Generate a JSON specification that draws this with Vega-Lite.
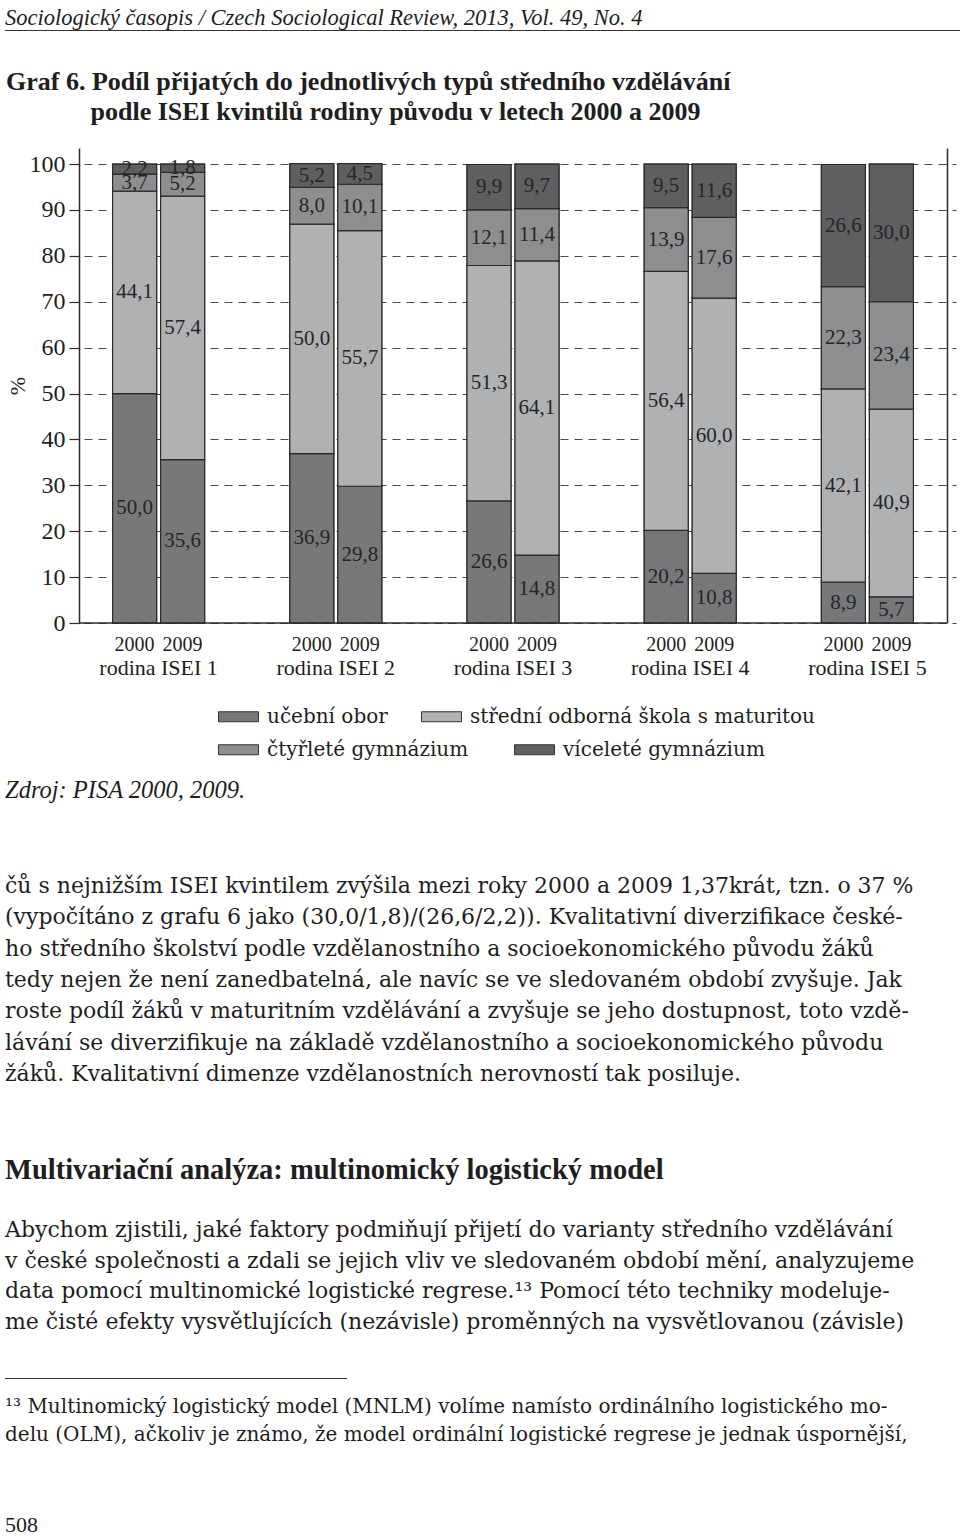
{
  "$schema": "https://vega.github.io/schema/vega-lite/v6.json",
  "padding": {"left": 5, "top": 7, "right": 0, "bottom": 0},
  "background": "white",
  "spacing": 0,
  "config": {
    "view": {"stroke": null},
    "font": "Liberation Serif",
    "locale": {"number": {"decimal": ",", "thousands": "\u00a0", "grouping": [3], "currency": ["", "\u00a0Kč"]}},
    "title": {"anchor": "start", "color": "#1e1e1e", "subtitleColor": "#1e1e1e", "font": "Liberation Serif", "subtitleFont": "DejaVu Serif", "fontWeight": "normal", "offset": 0},
    "axis": {"labelFont": "Liberation Serif", "titleFont": "Liberation Serif", "labelColor": "#1e1e1e", "titleColor": "#1e1e1e", "domainColor": "#2b2b2b", "tickColor": "#2b2b2b"},
    "text": {"font": "Liberation Serif"}
  },
  "vconcat": [
    {
      "title": {"text": "Sociologický časopis / Czech Sociological Review, 2013, Vol. 49, No. 4", "fontSize": 22.5, "fontStyle": "italic", "offset": -5},
      "width": 955, "height": 1,
      "view": {"fill": "#333333", "stroke": null},
      "data": {"values": [{}]},
      "mark": {"type": "text", "text": ""}
    },
    {
      "width": 10, "height": 32.5,
      "data": {"values": [{}]},
      "mark": {"type": "text", "text": ""}
    },
    {
      "spacing": 0,
      "hconcat": [
        {
          "width": 1, "height": 10,
          "data": {"values": [{}]},
          "mark": {"type": "text", "text": ""}
        },
        {
          "title": {
            "text": ["Graf 6. Podíl přijatých do jednotlivých typů středního vzdělávání", "\u200b\u00a0\u00a0\u00a0\u00a0\u00a0\u00a0\u00a0\u00a0\u00a0\u00a0\u00a0\u00a0\u00a0podle ISEI kvintilů rodiny původu v letech 2000 a 2009"],
            "fontSize": 26, "fontWeight": "bold", "lineHeight": 30, "frame": "bounds", "offset": 23
          },
          "width": 868, "height": 475,
          "view": {"stroke": null},
          "data": {"values": [
            {"group": "rodina ISEI 1", "year": "2000", "type": "učební obor", "order": 1, "value": 50.0},
            {"group": "rodina ISEI 1", "year": "2000", "type": "střední odborná škola s maturitou", "order": 2, "value": 44.1},
            {"group": "rodina ISEI 1", "year": "2000", "type": "čtyřleté gymnázium", "order": 3, "value": 3.7},
            {"group": "rodina ISEI 1", "year": "2000", "type": "víceleté gymnázium", "order": 4, "value": 2.2},
            {"group": "rodina ISEI 1", "year": "2009", "type": "učební obor", "order": 1, "value": 35.6},
            {"group": "rodina ISEI 1", "year": "2009", "type": "střední odborná škola s maturitou", "order": 2, "value": 57.4},
            {"group": "rodina ISEI 1", "year": "2009", "type": "čtyřleté gymnázium", "order": 3, "value": 5.2},
            {"group": "rodina ISEI 1", "year": "2009", "type": "víceleté gymnázium", "order": 4, "value": 1.8},
            {"group": "rodina ISEI 2", "year": "2000", "type": "učební obor", "order": 1, "value": 36.9},
            {"group": "rodina ISEI 2", "year": "2000", "type": "střední odborná škola s maturitou", "order": 2, "value": 50.0},
            {"group": "rodina ISEI 2", "year": "2000", "type": "čtyřleté gymnázium", "order": 3, "value": 8.0},
            {"group": "rodina ISEI 2", "year": "2000", "type": "víceleté gymnázium", "order": 4, "value": 5.2},
            {"group": "rodina ISEI 2", "year": "2009", "type": "učební obor", "order": 1, "value": 29.8},
            {"group": "rodina ISEI 2", "year": "2009", "type": "střední odborná škola s maturitou", "order": 2, "value": 55.7},
            {"group": "rodina ISEI 2", "year": "2009", "type": "čtyřleté gymnázium", "order": 3, "value": 10.1},
            {"group": "rodina ISEI 2", "year": "2009", "type": "víceleté gymnázium", "order": 4, "value": 4.5},
            {"group": "rodina ISEI 3", "year": "2000", "type": "učební obor", "order": 1, "value": 26.6},
            {"group": "rodina ISEI 3", "year": "2000", "type": "střední odborná škola s maturitou", "order": 2, "value": 51.3},
            {"group": "rodina ISEI 3", "year": "2000", "type": "čtyřleté gymnázium", "order": 3, "value": 12.1},
            {"group": "rodina ISEI 3", "year": "2000", "type": "víceleté gymnázium", "order": 4, "value": 9.9},
            {"group": "rodina ISEI 3", "year": "2009", "type": "učební obor", "order": 1, "value": 14.8},
            {"group": "rodina ISEI 3", "year": "2009", "type": "střední odborná škola s maturitou", "order": 2, "value": 64.1},
            {"group": "rodina ISEI 3", "year": "2009", "type": "čtyřleté gymnázium", "order": 3, "value": 11.4},
            {"group": "rodina ISEI 3", "year": "2009", "type": "víceleté gymnázium", "order": 4, "value": 9.7},
            {"group": "rodina ISEI 4", "year": "2000", "type": "učební obor", "order": 1, "value": 20.2},
            {"group": "rodina ISEI 4", "year": "2000", "type": "střední odborná škola s maturitou", "order": 2, "value": 56.4},
            {"group": "rodina ISEI 4", "year": "2000", "type": "čtyřleté gymnázium", "order": 3, "value": 13.9},
            {"group": "rodina ISEI 4", "year": "2000", "type": "víceleté gymnázium", "order": 4, "value": 9.5},
            {"group": "rodina ISEI 4", "year": "2009", "type": "učební obor", "order": 1, "value": 10.8},
            {"group": "rodina ISEI 4", "year": "2009", "type": "střední odborná škola s maturitou", "order": 2, "value": 60.0},
            {"group": "rodina ISEI 4", "year": "2009", "type": "čtyřleté gymnázium", "order": 3, "value": 17.6},
            {"group": "rodina ISEI 4", "year": "2009", "type": "víceleté gymnázium", "order": 4, "value": 11.6},
            {"group": "rodina ISEI 5", "year": "2000", "type": "učební obor", "order": 1, "value": 8.9},
            {"group": "rodina ISEI 5", "year": "2000", "type": "střední odborná škola s maturitou", "order": 2, "value": 42.1},
            {"group": "rodina ISEI 5", "year": "2000", "type": "čtyřleté gymnázium", "order": 3, "value": 22.3},
            {"group": "rodina ISEI 5", "year": "2000", "type": "víceleté gymnázium", "order": 4, "value": 26.6},
            {"group": "rodina ISEI 5", "year": "2009", "type": "učební obor", "order": 1, "value": 5.7},
            {"group": "rodina ISEI 5", "year": "2009", "type": "střední odborná škola s maturitou", "order": 2, "value": 40.9},
            {"group": "rodina ISEI 5", "year": "2009", "type": "čtyřleté gymnázium", "order": 3, "value": 23.4},
            {"group": "rodina ISEI 5", "year": "2009", "type": "víceleté gymnázium", "order": 4, "value": 30.0}
          ]},
          "layer": [
            {
              "mark": {"type": "bar", "stroke": "#2b2b2b", "strokeWidth": 1.2},
              "encoding": {
                "x": {"field": "group", "type": "nominal", "scale": {"range": [-9, 877], "paddingInner": 0, "paddingOuter": 0},
                      "axis": {"title": null, "domain": false, "ticks": false, "labelPadding": 34, "labelFontSize": 22, "labelAngle": 0}},
                "xOffset": {"field": "year", "type": "nominal", "scale": {"paddingInner": 0.0833, "paddingOuter": 0.8875}},
                "y": {"field": "value", "type": "quantitative", "stack": "zero", "scale": {"domain": [0, 103.5], "nice": false},
                      "axis": {"title": "%", "values": [0, 10, 20, 30, 40, 50, 60, 70, 80, 90, 100], "grid": true, "gridDash": [8, 6], "gridColor": "#4a4a4a", "gridWidth": 1,
                               "labelFontSize": 24, "tickSize": 10, "labelPadding": 4, "titleFontSize": 22, "titleFontWeight": "normal", "titlePadding": 0, "domainWidth": 1.5, "tickWidth": 1.2}},
                "color": {"field": "type", "type": "nominal",
                          "scale": {"domain": ["učební obor", "střední odborná škola s maturitou", "čtyřleté gymnázium", "víceleté gymnázium"],
                                    "range": ["#77787a", "#b0b1b3", "#8d8e90", "#5e5f61"]},
                          "legend": {"title": null, "orient": "none", "legendX": 213, "legendY": 666, "direction": "horizontal",
                                     "values": ["učební obor", "střední odborná škola s maturitou"],
                                     "columnPadding": 31, "symbolType": "M-1,-0.25H1V0.25H-1Z", "symbolSize": 1600,
                                     "symbolStrokeColor": "#333333", "symbolStrokeWidth": 1, "symbolOpacity": 1,
                                     "labelFontSize": 20, "labelFont": "DejaVu Serif", "labelColor": "#1e1e1e", "labelLimit": 600, "labelOffset": 8,
                                     "encode": {"symbols": {"update": {"stroke": {"value": "#333333"}, "strokeWidth": {"value": 1}}}}}},
                "order": {"field": "order", "type": "quantitative"}
              }
            },
            {
              "mark": {"type": "bar", "stroke": "#2b2b2b", "strokeWidth": 1.2},
              "encoding": {
                "x": {"field": "group", "type": "nominal"},
                "xOffset": {"field": "year", "type": "nominal"},
                "y": {"field": "value", "type": "quantitative", "stack": "zero", "axis": null},
                "fill": {"field": "type", "type": "nominal",
                         "scale": {"domain": ["čtyřleté gymnázium", "víceleté gymnázium", "učební obor", "střední odborná škola s maturitou"],
                                   "range": ["#8d8e90", "#5e5f61", "#77787a", "#b0b1b3"]},
                         "legend": {"title": null, "orient": "none", "legendX": 213, "legendY": 699, "direction": "horizontal",
                                    "values": ["čtyřleté gymnázium", "víceleté gymnázium"],
                                    "columnPadding": 43, "symbolType": "M-1,-0.25H1V0.25H-1Z", "symbolSize": 1600,
                                    "symbolStrokeColor": "#333333", "symbolStrokeWidth": 1, "symbolOpacity": 1,
                                    "labelFontSize": 20, "labelFont": "DejaVu Serif", "labelColor": "#1e1e1e", "labelLimit": 600, "labelOffset": 8,
                                    "encode": {"symbols": {"update": {"stroke": {"value": "#333333"}, "strokeWidth": {"value": 1}}}}}},
                "order": {"field": "order", "type": "quantitative"}
              }
            },
            {
              "transform": [
                {"stack": "value", "groupby": ["group", "year"], "sort": [{"field": "order", "order": "ascending"}], "as": ["v0", "v1"]},
                {"fold": ["v0", "v1"], "as": ["edge", "pos"]},
                {"aggregate": [{"op": "mean", "field": "pos", "as": "mid"}], "groupby": ["group", "year", "type", "value"]}
              ],
              "mark": {"type": "text", "fontSize": 21, "color": "#262626", "baseline": "middle", "align": "center"},
              "encoding": {
                "x": {"field": "group", "type": "nominal"},
                "xOffset": {"field": "year", "type": "nominal"},
                "y": {"field": "mid", "type": "quantitative", "scale": {"domain": [0, 103.5], "nice": false},
                      "axis": {"orient": "right", "labels": false, "ticks": false, "grid": false, "title": null, "domainWidth": 1.5}},
                "text": {"field": "value", "type": "quantitative", "format": ".1f"}
              }
            },
            {
              "transform": [{"filter": "datum.order == 1"}],
              "mark": {"type": "text", "fontSize": 20, "color": "#1e1e1e", "baseline": "middle", "align": "center", "dy": 22},
              "encoding": {
                "x": {"field": "group", "type": "nominal"},
                "xOffset": {"field": "year", "type": "nominal"},
                "y": {"datum": 0, "axis": null},
                "text": {"field": "year", "type": "nominal"}
              }
            },
            {
              "transform": [{"filter": "datum.order == 1 && datum.year == '2000' && datum.group == 'rodina ISEI 1'"}],
              "mark": {"type": "rule", "color": "#2b2b2b", "strokeWidth": 1.5},
              "encoding": {"y": {"datum": 0, "axis": null}}
            }
          ],
          "resolve": {"axis": {"y": "independent"}}
        }
      ]
    },
    {
      "width": 10, "height": 99,
      "data": {"values": [{}]},
      "mark": {"type": "text", "text": ""}
    },
    {
      "title": {
        "text": "Zdroj: PISA 2000, 2009.", "fontSize": 24.5, "fontStyle": "italic", "offset": 0,
        "subtitle": [
          "čů s nejnižším ISEI kvintilem zvýšila mezi roky 2000 a 2009 1,37krát, tzn. o 37 %",
          "(vypočítáno z grafu 6 jako (30,0/1,8)/(26,6/2,2)). Kvalitativní diverzifikace české-",
          "ho středního školství podle vzdělanostního a socioekonomického původu žáků",
          "tedy nejen že není zanedbatelná, ale navíc se ve sledovaném období zvyšuje. Jak",
          "roste podíl žáků v maturitním vzdělávání a zvyšuje se jeho dostupnost, toto vzdě-",
          "lávání se diverzifikuje na základě vzdělanostního a socioekonomického původu",
          "žáků. Kvalitativní dimenze vzdělanostních nerovností tak posiluje."
        ],
        "subtitleFontSize": 22, "subtitleLineHeight": 31.3, "subtitlePadding": 73
      },
      "width": 10, "height": 70,
      "data": {"values": [{}]},
      "mark": {"type": "text", "text": ""}
    },
    {
      "title": {
        "text": "Multivariační analýza: multinomický logistický model", "fontSize": 28.5, "fontWeight": "bold", "offset": 0,
        "subtitle": [
          "Abychom zjistili, jaké faktory podmiňují přijetí do varianty středního vzdělávání",
          "v české společnosti a zdali se jejich vliv ve sledovaném období mění, analyzujeme",
          "data pomocí multinomické logistické regrese.¹³ Pomocí této techniky modeluje-",
          "me čisté efekty vysvětlujících (nezávisle) proměnných na vysvětlovanou (závisle)"
        ],
        "subtitleFontSize": 22, "subtitleLineHeight": 30.7, "subtitlePadding": 35
      },
      "width": 10, "height": 39,
      "data": {"values": [{}]},
      "mark": {"type": "text", "text": ""}
    },
    {
      "title": {
        "text": [
          "¹³ Multinomický logistický model (MNLM) volíme namísto ordinálního logistického mo-",
          "delu (OLM), ačkoliv je známo, že model ordinální logistické regrese je jednak úspornější,"
        ],
        "orient": "bottom", "font": "DejaVu Serif", "fontSize": 20, "lineHeight": 28, "offset": 13
      },
      "width": 342, "height": 1,
      "view": {"fill": "#333333", "stroke": null},
      "data": {"values": [{}]},
      "mark": {"type": "text", "text": ""}
    },
    {
      "width": 10, "height": 68,
      "data": {"values": [{}]},
      "mark": {"type": "text", "text": ""}
    },
    {
      "title": {"text": "508", "fontSize": 22, "offset": 0},
      "width": 10, "height": 1,
      "data": {"values": [{}]},
      "mark": {"type": "text", "text": ""}
    }
  ]
}
